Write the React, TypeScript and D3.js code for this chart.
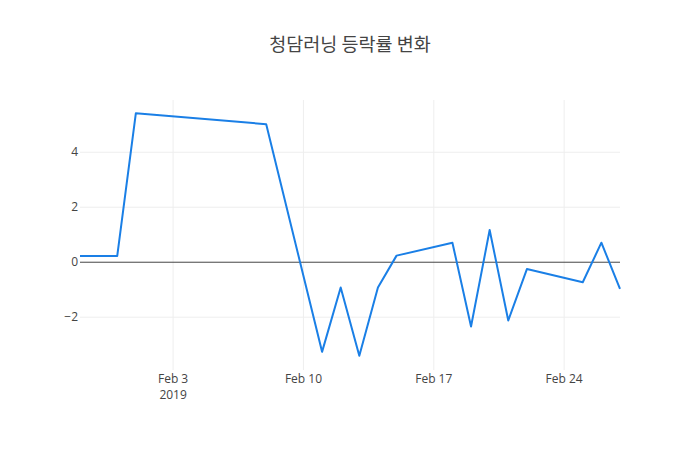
import React from "react";
import * as d3 from "d3";

const title = "청담러닝 등락률 변화";
const dates = [
  "2019-01-29", "2019-01-31", "2019-02-01", "2019-02-08", "2019-02-11",
  "2019-02-12", "2019-02-13", "2019-02-14", "2019-02-15", "2019-02-18",
  "2019-02-19", "2019-02-20", "2019-02-21", "2019-02-22", "2019-02-25",
  "2019-02-26", "2019-02-27",
];
const values = [
  0.23, 0.23, 5.42, 5.02, -3.26,
  -0.92, -3.40, -0.92, 0.24, 0.71,
  -2.34, 1.17, -2.12, -0.25, -0.73,
  0.71, -0.97,
];
const xTickDates = ["2019-02-03", "2019-02-10", "2019-02-17", "2019-02-24"];
const xTickLabels = ["Feb 3", "Feb 10", "Feb 17", "Feb 24"];
const yTicks = [-2, 0, 2, 4];
const yTickLabels = ["−2", "0", "2", "4"];

const W = 700, H = 450;
const M = { l: 80, r: 80, t: 100, b: 80 };
const font = "'Open Sans', 'Noto Sans', sans-serif";

export default function App() {
  const parse = d3.utcParse("%Y-%m-%d");
  const xs = dates.map((d) => parse(d) as Date);
  const x = d3
    .scaleUtc()
    .domain([xs[0], xs[xs.length - 1]])
    .range([M.l, W - M.r]);
  const y = d3.scaleLinear().domain([-3.92, 5.9]).range([H - M.b, M.t]);
  const line = d3
    .line<number>()
    .x((_, i) => x(xs[i]))
    .y((v) => y(v));
  return (
    <svg width={W} height={H} style={{ position: "absolute", left: 0, top: 0, background: "#fff" }}>
      <rect x={0} y={0} width={W} height={H} fill="#fff" />
      {xTickDates.map((d, i) => {
        const px = x(parse(d) as Date);
        return (
          <g key={d}>
            <line x1={px} x2={px} y1={M.t} y2={H - M.b} stroke="#eee" strokeWidth={1} />
            <text x={px} y={383} textAnchor="middle" fontFamily={font} fontSize={12} fill="#444">
              {xTickLabels[i]}
            </text>
            {i === 0 && (
              <text x={px} y={399} textAnchor="middle" fontFamily={font} fontSize={12} fill="#444">
                2019
              </text>
            )}
          </g>
        );
      })}
      {yTicks.map((t, i) => (
        <g key={t}>
          {t !== 0 && (
            <line x1={M.l} x2={W - M.r} y1={y(t)} y2={y(t)} stroke="#eee" strokeWidth={1} />
          )}
          <text x={78} y={y(t) + 4} textAnchor="end" fontFamily={font} fontSize={12} fill="#444">
            {yTickLabels[i]}
          </text>
        </g>
      ))}
      <line x1={M.l} x2={W - M.r} y1={y(0)} y2={y(0)} stroke="#444" strokeWidth={1} />
      <path d={line(values) || ""} fill="none" stroke="#1a7fe6" strokeWidth={2} strokeLinejoin="round" />
      <text
        x={W / 2}
        y={51}
        textAnchor="middle"
        fontFamily="'Noto Sans CJK KR', 'Open Sans', sans-serif"
        fontSize={18.5}
        fill="#444"
      >
        {title}
      </text>
    </svg>
  );
}
